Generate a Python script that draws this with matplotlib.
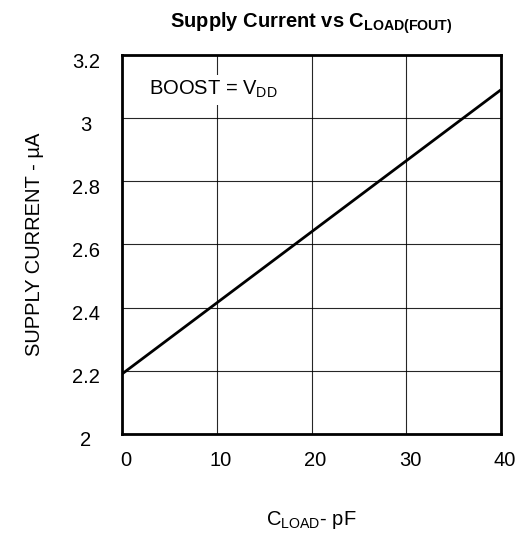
import matplotlib
matplotlib.use("Agg")
import matplotlib.pyplot as plt
import matplotlib.transforms as mtransforms

plt.rcParams['font.family'] = ['Liberation Sans', 'DejaVu Sans']
plt.rcParams['mathtext.fontset'] = 'custom'
plt.rcParams['mathtext.rm'] = 'Liberation Sans'
plt.rcParams['mathtext.it'] = 'Liberation Sans'
plt.rcParams['mathtext.bf'] = 'Liberation Sans:bold'

# Data
c_load_pf = [0, 10, 20, 30, 40]
supply_current_ua = [2.19, 2.415, 2.64, 2.865, 3.09]
x_ticks = [0, 10, 20, 30, 40]
x_tick_labels = ["0", "10", "20", "30", "40"]
y_ticks = [2.0, 2.2, 2.4, 2.6, 2.8, 3.0, 3.2]
y_tick_labels = ["2", "2.2", "2.4", "2.6", "2.8", "3", "3.2"]

fig = plt.figure(figsize=(5.19, 5.35), dpi=100)
ax = fig.add_axes([122/519, 1 - 434/535, 379/519, 379/535])

ax.plot(c_load_pf, supply_current_ua, color='black', lw=2, zorder=3, solid_capstyle='butt')
ax.set_xlim(0, 40)
ax.set_ylim(2.0, 3.2)
ax.set_xticks(x_ticks)
ax.set_xticklabels(x_tick_labels)
ax.set_yticks(y_ticks)
ax.set_yticklabels(y_tick_labels)
ax.grid(True, color='black', lw=0.8, alpha=0.85)
ax.set_axisbelow(True)
for s in ax.spines.values():
    s.set_linewidth(2)
    s.set_zorder(4)

ax.tick_params(axis='both', length=0, labelsize=14.5)
ax.tick_params(axis='y', pad=26)
ax.tick_params(axis='x', pad=12)
off = mtransforms.ScaledTranslation(0, -5/100, fig.dpi_scale_trans)
for lab in ax.get_yticklabels():
    lab.set_horizontalalignment('center')
    lab.set_transform(lab.get_transform() + off)
offx = mtransforms.ScaledTranslation(4/100, 0, fig.dpi_scale_trans)
for lab in ax.get_xticklabels():
    lab.set_transform(lab.get_transform() + offx)

ax.text(2.8, 3.09, r'BOOST = V$_{\mathrm{DD}}$', fontsize=14.5, ha='left', va='center',
        bbox=dict(facecolor='white', edgecolor='none', pad=3), zorder=5)

ax.set_title(r'Supply Current vs C$_{\mathbf{LOAD(FOUT)}}$', fontsize=14.5, fontweight='bold', pad=20)
ax.set_xlabel(r'C$_{\mathrm{LOAD}}$- pF', fontsize=14.5, va='center')
ax.xaxis.set_label_coords(0.5, -0.227)
ax.set_ylabel('SUPPLY CURRENT - µA', fontsize=14.5, va='center', ha='center')
ax.yaxis.set_label_coords(-0.23, 0.5)

fig.savefig('out.png', dpi=100)
